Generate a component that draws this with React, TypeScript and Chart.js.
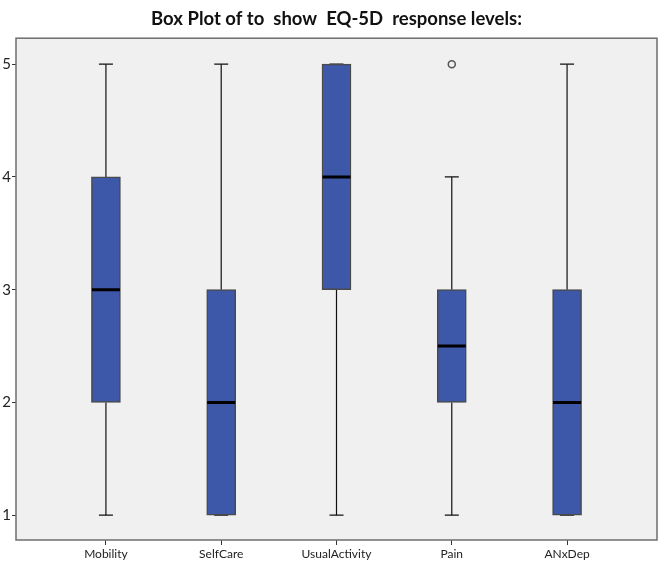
import React, { useEffect, useRef } from "react";
import { Chart, registerables } from "chart.js";

Chart.register(...registerables);

// EQ-5D dimensions and their five-number summaries
const categories = ["Mobility", "SelfCare", "UsualActivity", "Pain", "ANxDep"];
const whiskerLow = [1, 1, 1, 1, 1];
const quartile1 = [2, 1, 3, 2, 1];
const medians = [3, 2, 4, 2.5, 2];
const quartile3 = [4, 3, 5, 3, 3];
const whiskerHigh = [5, 5, 5, 4, 5];
// outliers as [category index, value]
const outliers: [number, number][] = [[3, 5]];
const yTickValues = [1, 2, 3, 4, 5];

const BOX_FILL = "#3d57a9";
const BOX_EDGE = "#4a4a4a";

// plot-area background and frame
const frameAndBackground = {
  id: "frameAndBackground",
  beforeDraw(chart: any) {
    const { ctx, chartArea: a } = chart;
    ctx.save();
    ctx.fillStyle = "#f0f0f0";
    ctx.fillRect(a.left, a.top, a.right - a.left, a.bottom - a.top);
    ctx.restore();
  },
  afterDraw(chart: any) {
    const { ctx, chartArea: a } = chart;
    ctx.save();
    ctx.strokeStyle = "#6e6e6e";
    ctx.lineWidth = 1.5;
    ctx.strokeRect(a.left, a.top, a.right - a.left, a.bottom - a.top);
    ctx.restore();
  },
};

export default function App() {
  const canvasRef = useRef<HTMLCanvasElement | null>(null);

  useEffect(() => {
    const canvas = canvasRef.current;
    if (!canvas) return;

    // whisker stems: lower (Q1 -> min) and upper (Q3 -> max), separated by gaps
    const stems: any[] = [];
    categories.forEach((_, i) => {
      if (whiskerLow[i] < quartile1[i]) {
        stems.push({ x: i, y: whiskerLow[i] }, { x: i, y: quartile1[i] }, { x: i, y: null });
      }
      if (whiskerHigh[i] > quartile3[i]) {
        stems.push({ x: i, y: quartile3[i] }, { x: i, y: whiskerHigh[i] }, { x: i, y: null });
      }
    });

    const caps: any[] = [];
    categories.forEach((_, i) => {
      caps.push({ x: i, y: whiskerLow[i] }, { x: i, y: whiskerHigh[i] });
    });

    const chart = new Chart(canvas, {
      type: "bar",
      data: {
        datasets: [
          {
            type: "scatter",
            label: "median",
            data: categories.map((_, i) => ({ x: i, y: medians[i] })),
            pointStyle: "line",
            pointRadius: 14,
            pointBorderWidth: 3,
            pointBorderColor: "#000000",
            pointBackgroundColor: "#000000",
            order: 0,
          } as any,
          {
            type: "scatter",
            label: "outliers",
            data: outliers.map(([i, v]) => ({ x: i, y: v })),
            pointStyle: "circle",
            pointRadius: 3.5,
            pointBorderWidth: 1.5,
            pointBorderColor: "#555555",
            pointBackgroundColor: "#f0f0f0",
            order: 1,
          } as any,
          {
            type: "bar",
            label: "box",
            data: categories.map((_, i) => ({ x: i, y: [quartile1[i], quartile3[i]] })),
            backgroundColor: BOX_FILL,
            borderColor: BOX_EDGE,
            borderWidth: 1.5,
            borderSkipped: false,
            barThickness: 29,
            order: 2,
          } as any,
          {
            type: "scatter",
            label: "caps",
            data: caps,
            pointStyle: "line",
            pointRadius: 7,
            pointBorderWidth: 1.3,
            pointBorderColor: "#111111",
            order: 3,
          } as any,
          {
            type: "scatter",
            label: "stems",
            data: stems,
            showLine: true,
            spanGaps: false,
            pointRadius: 0,
            borderColor: "#111111",
            borderWidth: 1.2,
            order: 4,
          } as any,
        ],
      },
      options: {
        animation: false,
        responsive: false,
        maintainAspectRatio: false,
        layout: { autoPadding: false, padding: { top: 0, right: 8, bottom: 0, left: 0 } },
        plugins: {
          legend: { display: false },
          tooltip: { enabled: false },
          title: {
            display: true,
            fullSize: false,
            text: "Box Plot of to  show  EQ-5D  response levels:",
            color: "#111111",
            font: { family: "Lato", size: 18.5, weight: "bold" },
            padding: { top: 8, bottom: 8 },
          },
        },
        scales: {
          x: {
            type: "linear",
            offset: false,
            min: -0.78,
            max: 4.78,
            afterBuildTicks: (axis: any) => {
              axis.ticks = categories.map((_, i) => ({ value: i }));
            },
            afterFit: (axis: any) => {
              axis.height = 22;
              axis.paddingLeft = 0;
              axis.paddingRight = 0;
            },
            grid: {
              offset: false,
              drawOnChartArea: false,
              drawTicks: true,
              tickLength: 5,
              color: "#333333",
            },
            border: { display: false },
            ticks: {
              autoSkip: false,
              maxRotation: 0,
              padding: 2,
              color: "#222222",
              font: { family: "Lato", size: 12 },
              callback: (v: any) => categories[Math.round(Number(v))] ?? "",
            },
          },
          y: {
            type: "linear",
            min: 0.78,
            max: 5.23,
            afterBuildTicks: (axis: any) => {
              axis.ticks = yTickValues.map((v) => ({ value: v }));
            },
            afterFit: (axis: any) => {
              axis.width = 16;
            },
            grid: {
              drawOnChartArea: false,
              drawTicks: true,
              tickLength: 4,
              color: "#333333",
            },
            border: { display: false },
            ticks: {
              padding: 1,
              color: "#222222",
              font: { family: "Lato", size: 15 },
            },
          },
        },
      },
      plugins: [frameAndBackground],
    });

    return () => chart.destroy();
  }, []);

  return (
    <div
      style={{
        position: "fixed",
        left: 0,
        top: 0,
        width: 665,
        height: 562,
        background: "#ffffff",
      }}
    >
      <canvas ref={canvasRef} width={665} height={562} style={{ display: "block" }} />
    </div>
  );
}
